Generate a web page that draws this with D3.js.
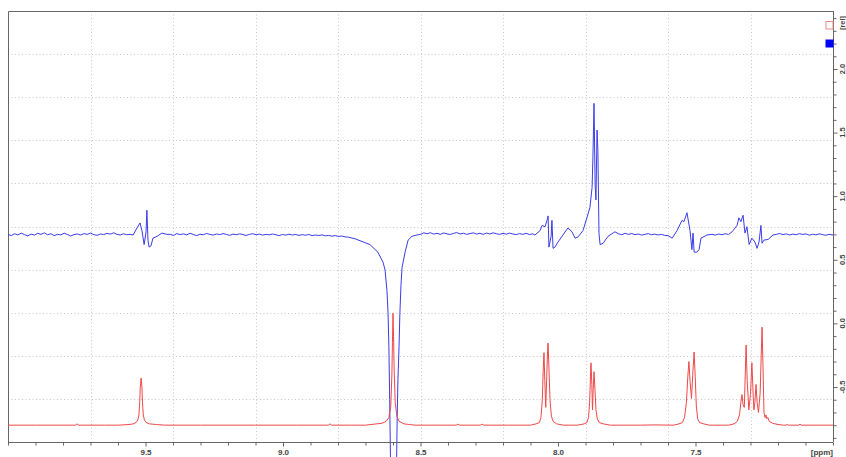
<!DOCTYPE html>
<html>
<head>
<meta charset="utf-8">
<script src="https://cdn.jsdelivr.net/npm/d3@7"></script>
<style>
  html, body { margin: 0; padding: 0; background: #fff; }
  svg { display: block; }
  text { font-family: "Liberation Sans", Arial, sans-serif; font-weight: bold; fill: #444; }
</style>
</head>
<body>
<svg id="chart" width="846" height="457"></svg>
<script>
// ---- data: [ppm, intensity] ----
const blueSpectrum = [
  [10.000,.700],[9.988,.690],[9.976,.705],[9.964,.695],[9.952,.710],[9.940,.698],[9.928,.688],[9.916,.702],
  [9.904,.694],[9.892,.708],[9.880,.700],[9.868,.712],[9.856,.697],[9.844,.705],[9.832,.690],[9.820,.700],
  [9.808,.696],[9.796,.709],[9.784,.699],[9.772,.687],[9.760,.698],[9.748,.703],[9.736,.695],[9.724,.706],
  [9.712,.700],[9.700,.710],[9.688,.698],[9.676,.692],[9.664,.703],[9.652,.699],[9.640,.707],[9.628,.702],
  [9.616,.712],[9.604,.700],[9.592,.695],[9.580,.705],[9.568,.697],[9.556,.700],
  [9.545,0.695],[9.531,0.75],[9.520,0.79],[9.513,0.73],[9.505,0.62],[9.498,0.72],[9.495,0.89],[9.491,0.655],
  [9.487,0.60],[9.480,0.61],[9.473,0.67],[9.458,0.685],[9.440,0.71],[9.422,0.70],
  [9.410,.700],[9.398,.692],[9.386,.706],[9.374,.698],[9.362,.704],[9.350,.696],[9.338,.708],[9.326,.699],
  [9.314,.690],[9.302,.701],[9.290,.697],[9.278,.707],[9.266,.700],[9.254,.694],[9.242,.703],[9.230,.698],
  [9.218,.706],[9.206,.700],[9.194,.692],[9.182,.702],[9.170,.697],[9.158,.704],[9.146,.699],[9.134,.691],
  [9.122,.700],[9.110,.705],[9.098,.697],[9.086,.702],[9.074,.694],[9.062,.700],[9.050,.696],[9.038,.703],
  [9.026,.697],[9.014,.690],[9.002,.699],[8.990,.694],[8.978,.701],[8.966,.695],[8.954,.699],[8.942,.692],
  [8.930,.698],[8.918,.693],[8.906,.699],[8.894,.690],[8.882,.695],[8.870,.691],[8.858,.696],[8.846,.688],
  [8.834,.692],[8.822,.686],[8.810,.690],[8.798,.683],[8.786,.687],[8.774,.680],[8.762,.678],
  [8.738,0.665],[8.684,0.62],[8.655,0.56],[8.636,0.48],[8.629,0.42],[8.622,0.26],[8.618,0.08],[8.615,-0.18],
  [8.612,-0.60],[8.609,-1.10],[8.598,-3.00],[8.587,-1.10],[8.585,-0.76],[8.582,-0.44],[8.578,-0.18],[8.575,0.08],
  [8.571,0.30],[8.567,0.44],[8.556,0.56],[8.545,0.655],[8.531,0.685],[8.513,0.695],
  [8.500,.700],[8.488,.712],[8.476,.705],[8.464,.713],[8.452,.702],[8.440,.708],[8.428,.700],[8.416,.711],
  [8.404,.704],[8.392,.699],[8.380,.708],[8.368,.714],[8.356,.703],[8.344,.709],[8.332,.700],[8.320,.706],
  [8.308,.712],[8.296,.702],[8.284,.708],[8.272,.700],[8.260,.710],[8.248,.703],[8.236,.712],[8.224,.705],
  [8.212,.700],[8.200,.708],[8.188,.701],[8.176,.710],[8.164,.703],[8.152,.698],[8.140,.706],[8.128,.700],
  [8.116,.708],[8.104,.699],[8.092,.704],
  [8.084,0.695],[8.065,0.73],[8.058,0.77],[8.047,0.76],[8.040,0.81],[8.036,0.845],[8.033,0.60],[8.025,0.685],
  [8.022,0.81],[8.018,0.59],[8.011,0.60],[8.000,0.64],[7.982,0.695],[7.964,0.75],[7.949,0.72],[7.938,0.67],
  [7.927,0.68],[7.909,0.73],[7.895,0.83],[7.884,0.91],[7.876,1.07],[7.873,1.31],[7.869,1.73],[7.865,1.09],
  [7.862,0.97],[7.858,1.52],[7.855,1.36],[7.851,0.71],[7.847,0.62],[7.836,0.63],[7.818,0.685],[7.793,0.72],
  [7.780,.705],[7.768,.697],[7.756,.708],[7.744,.700],[7.732,.706],[7.720,.698],[7.708,.703],[7.696,.694],
  [7.684,.700],[7.672,.706],[7.660,.697],[7.648,.702],[7.636,.695],[7.624,.700],[7.612,.692],[7.600,.690],
  [7.585,0.67],[7.567,0.73],[7.549,0.81],[7.542,0.80],[7.531,0.87],[7.520,0.73],[7.513,0.58],[7.509,0.71],
  [7.505,0.56],[7.495,0.56],[7.487,0.58],[7.480,0.67],[7.458,0.695],
  [7.440,.700],[7.428,.694],[7.416,.703],[7.404,.697],[7.392,.705],[7.380,.699],
  [7.367,0.72],[7.349,0.77],[7.342,0.83],[7.335,0.80],[7.327,0.85],[7.320,0.71],[7.313,0.76],[7.305,0.62],
  [7.295,0.67],[7.284,0.64],[7.276,0.59],[7.269,0.64],[7.262,0.77],[7.258,0.63],[7.251,0.655],[7.236,0.66],
  [7.218,0.695],
  [7.206,.700],[7.194,.707],[7.182,.698],[7.170,.704],[7.158,.695],[7.146,.702],[7.134,.697],[7.122,.706],
  [7.110,.699],[7.098,.704],[7.086,.693],[7.074,.701],[7.062,.696],[7.050,.704],[7.038,.698],[7.026,.693],
  [7.014,.700],[7.000,.695]
];

const redSpectrum = [
  [10.00,-0.80],[9.90,-0.80],[9.80,-0.80],[9.755,-0.80],[9.749,-0.79],[9.743,-0.80],[9.65,-0.80],
  [9.60,-0.80],[9.56,-0.795],[9.545,-0.79],[9.535,-0.78],[9.528,-0.76],[9.524,-0.72],[9.521,-0.62],[9.519,-0.50],
  [9.516,-0.43],[9.513,-0.50],[9.511,-0.62],[9.508,-0.72],[9.504,-0.76],[9.497,-0.78],[9.485,-0.79],[9.46,-0.795],
  [9.43,-0.80],[9.30,-0.80],[9.10,-0.80],[8.95,-0.80],[8.835,-0.80],[8.829,-0.79],[8.823,-0.80],[8.75,-0.80],
  [8.70,-0.80],[8.66,-0.79],[8.64,-0.785],[8.625,-0.77],[8.615,-0.74],[8.608,-0.65],[8.604,-0.40],[8.602,-0.15],
  [8.600,0.08],[8.598,-0.10],[8.596,-0.35],[8.592,-0.62],[8.586,-0.73],[8.578,-0.77],[8.56,-0.79],[8.54,-0.795],
  [8.52,-0.80],[8.45,-0.80],[8.37,-0.80],[8.364,-0.792],[8.358,-0.80],[8.282,-0.80],[8.276,-0.792],[8.27,-0.80],
  [8.18,-0.80],[8.10,-0.80],
  [8.08,-0.79],[8.068,-0.78],[8.062,-0.74],[8.057,-0.60],[8.054,-0.38],[8.051,-0.23],[8.048,-0.45],[8.0445,-0.66],
  [8.041,-0.42],[8.038,-0.22],[8.036,-0.155],[8.033,-0.35],[8.029,-0.60],[8.024,-0.73],[8.018,-0.77],[8.005,-0.79],
  [7.98,-0.80],[7.93,-0.80],
  [7.905,-0.79],[7.895,-0.78],[7.889,-0.74],[7.885,-0.62],[7.882,-0.42],[7.880,-0.31],[7.877,-0.48],[7.8745,-0.68],
  [7.872,-0.52],[7.869,-0.38],[7.866,-0.50],[7.862,-0.68],[7.857,-0.75],[7.85,-0.78],[7.835,-0.79],[7.81,-0.80],
  [7.70,-0.80],[7.65,-0.798],[7.58,-0.80],
  [7.56,-0.79],[7.548,-0.78],[7.540,-0.74],[7.533,-0.62],[7.528,-0.42],[7.524,-0.30],[7.520,-0.45],[7.5145,-0.59],
  [7.510,-0.40],[7.505,-0.225],[7.501,-0.42],[7.497,-0.65],[7.492,-0.75],[7.485,-0.78],[7.47,-0.79],[7.45,-0.80],
  [7.38,-0.80],[7.36,-0.79],[7.348,-0.77],[7.340,-0.72],[7.335,-0.62],[7.331,-0.56],[7.327,-0.64],[7.3225,-0.66],
  [7.319,-0.40],[7.316,-0.17],[7.312,-0.45],[7.306,-0.68],[7.300,-0.55],[7.295,-0.31],[7.290,-0.58],[7.2875,-0.68],
  [7.284,-0.62],[7.280,-0.48],[7.276,-0.62],[7.271,-0.70],[7.265,-0.55],[7.261,-0.25],[7.258,-0.03],[7.255,-0.30],
  [7.251,-0.70],[7.247,-0.74],[7.244,-0.72],[7.241,-0.75],[7.237,-0.74],[7.232,-0.77],[7.22,-0.785],[7.20,-0.795],
  [7.18,-0.80],[7.17,-0.80],[7.167,-0.793],[7.163,-0.80],[7.125,-0.80],[7.12,-0.793],[7.115,-0.80],[7.00,-0.80]
];

const xMajorTicks = [9.5, 9.0, 8.5, 8.0, 7.5];
const xMajorLabels = ["9.5", "9.0", "8.5", "8.0", "7.5"];
const yMajorTicks = [-0.5, 0.0, 0.5, 1.0, 1.5, 2.0];
const yMajorLabels = ["-0.5", "0.0", "0.5", "1.0", "1.5", "2.0"];
const xUnitLabel = "[ppm]";
const yUnitLabel = "[rel]";

// ---- layout ----
const plotL = 8, plotR = 833, plotT = 11, plotB = 442;
const svg = d3.select("#chart");

const x = d3.scaleLinear().domain([10.0, 7.0]).range([plotL, plotR]);
const y = d3.scaleLinear().domain([0, 2]).range([323.4, 69]);

// grid: 10 x 10 divisions
const grid = svg.append("g");
for (let i = 1; i < 10; i++) {
  const gx = Math.round(plotL + (plotR - plotL) * i / 10) + 0.5;
  const gy = Math.round(plotT + (plotB - plotT) * i / 10) + 0.5;
  grid.append("line").attr("x1", gx).attr("x2", gx).attr("y1", plotT).attr("y2", plotB)
    .attr("stroke", "#c8c8c8").attr("stroke-width", 1).attr("stroke-dasharray", "1,2.5");
  grid.append("line").attr("x1", plotL).attr("x2", plotR).attr("y1", gy).attr("y2", gy)
    .attr("stroke", "#c8c8c8").attr("stroke-width", 1).attr("stroke-dasharray", "1,2.5");
}

// frame
svg.append("path")
  .attr("d", `M${plotL + 0.5},${plotB}V${plotT + 0.5}H${plotR}`)
  .attr("fill", "none").attr("stroke", "#666").attr("stroke-width", 1);

const line = d3.line().x(d => x(d[0])).y(d => y(d[1]));

svg.append("path").datum(blueSpectrum)
  .attr("d", line).attr("fill", "none")
  .attr("stroke", "#3b3bea").attr("stroke-width", 1).attr("stroke-linejoin", "round");

svg.append("path").datum(redSpectrum)
  .attr("d", line).attr("fill", "none")
  .attr("stroke", "#f04848").attr("stroke-width", 1).attr("stroke-linejoin", "round");

// x axis
const xMinor = d3.range(70, 101).map(v => v / 10).filter(v => !xMajorTicks.some(m => Math.abs(m - v) < 1e-9));
const xAxisMinor = d3.axisBottom(x).tickValues(xMinor).tickSize(3).tickFormat("");
const xAxisMajor = d3.axisBottom(x).tickValues(xMajorTicks).tickSize(4)
  .tickFormat((d, i) => xMajorLabels[i]).tickPadding(3);
const gxMinor = svg.append("g").attr("transform", `translate(0,${plotB + 0.5})`).call(xAxisMinor);
const gxMajor = svg.append("g").attr("transform", `translate(0,${plotB + 0.5})`).call(xAxisMajor);
[gxMinor, gxMajor].forEach(g => {
  g.select(".domain").attr("stroke", "#666").attr("d", `M${plotL},0H${plotR}`);
  g.selectAll(".tick line").attr("stroke", "#666");
  g.selectAll("text").style("font-size", "8px").style("font-weight", "bold").attr("fill", "#444");
});
svg.append("text").attr("x", plotR).attr("y", 455).attr("text-anchor", "end")
  .style("font-size", "8px").text(xUnitLabel);

// y axis (right)
const yMinor = d3.range(-9, 25).map(v => v / 10).filter(v => !yMajorTicks.some(m => Math.abs(m - v) < 1e-9));
const yAxisMinor = d3.axisRight(y).tickValues(yMinor).tickSize(3).tickFormat("");
const yAxisMajor = d3.axisRight(y).tickValues(yMajorTicks).tickSize(4).tickFormat("");
const gyMinor = svg.append("g").attr("transform", `translate(${plotR + 0.5},0)`).call(yAxisMinor);
const gyMajor = svg.append("g").attr("transform", `translate(${plotR + 0.5},0)`).call(yAxisMajor);
[gyMinor, gyMajor].forEach(g => {
  g.select(".domain").attr("stroke", "#666").attr("d", `M0,${plotT}V${plotB}`);
  g.selectAll(".tick line").attr("stroke", "#666");
});
yMajorTicks.forEach((v, i) => {
  svg.append("text")
    .attr("transform", `translate(${plotR + 12},${y(v)}) rotate(-90)`)
    .attr("text-anchor", "middle")
    .style("font-size", "7.5px").text(yMajorLabels[i]);
});
svg.append("text")
  .attr("transform", `translate(${plotR + 12},23) rotate(-90)`)
  .attr("text-anchor", "middle")
  .style("font-size", "7.5px").text(yUnitLabel);

// legend squares
svg.append("rect").attr("x", 826).attr("y", 21.5).attr("width", 7).attr("height", 7.5)
  .attr("fill", "#fff").attr("stroke", "#f08a8a").attr("stroke-width", 1);
svg.append("rect").attr("x", 825.5).attr("y", 39.5).attr("width", 8).attr("height", 8)
  .attr("fill", "#0000ff");
</script>
</body>
</html>
